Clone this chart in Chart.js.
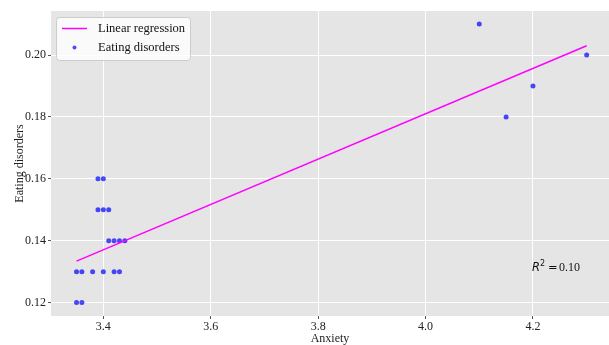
<!DOCTYPE html>
<html>
<head>
<meta charset="utf-8">
<script src="https://cdn.jsdelivr.net/npm/chart.js@4"></script>
<style>
  html, body { margin: 0; padding: 0; background: #fff; }
  #wrap { width: 609px; height: 345px; }
</style>
</head>
<body>
<div id="wrap"><canvas id="chart" width="609" height="345"></canvas></div>
<script>
// values
var anxiety = [3.39, 3.40, 3.39, 3.40, 3.41, 3.41, 3.42, 3.43, 3.44,
               3.35, 3.36, 3.38, 3.40, 3.42, 3.43, 3.35, 3.36,
               4.10, 4.15, 4.20, 4.30];
var eating  = [0.16, 0.16, 0.15, 0.15, 0.15, 0.14, 0.14, 0.14, 0.14,
               0.13, 0.13, 0.13, 0.13, 0.13, 0.13, 0.12, 0.12,
               0.21, 0.18, 0.19, 0.20];
var fitX = [3.35, 4.30];
var fitY = [0.1334, 0.2030];
var xTicks = [3.4, 3.6, 3.8, 4.0, 4.2];
var yTicks = [0.12, 0.14, 0.16, 0.18, 0.20];
var r2Value = 0.10;
var r2At = [4.198, 0.1302];

var serif = "'Liberation Serif', 'Times New Roman', serif";

function pairs(xs, ys) {
    var out = [];
    for (var i = 0; i < xs.length; i++) out.push({ x: xs[i], y: ys[i] });
    return out;
}

var panelBg = {
    id: 'panelBg',
    beforeDraw: function (chart) {
        var a = chart.chartArea, ctx = chart.ctx;
        ctx.save();
        ctx.fillStyle = '#e5e5e5';
        ctx.fillRect(a.left, a.top, a.right - a.left, a.bottom - a.top);
        ctx.restore();
    }
};

function roundRect(ctx, x, y, w, h, r) {
    ctx.beginPath();
    ctx.moveTo(x + r, y);
    ctx.lineTo(x + w - r, y);
    ctx.quadraticCurveTo(x + w, y, x + w, y + r);
    ctx.lineTo(x + w, y + h - r);
    ctx.quadraticCurveTo(x + w, y + h, x + w - r, y + h);
    ctx.lineTo(x + r, y + h);
    ctx.quadraticCurveTo(x, y + h, x, y + h - r);
    ctx.lineTo(x, y + r);
    ctx.quadraticCurveTo(x, y, x + r, y);
    ctx.closePath();
}

var extras = {
    id: 'extras',
    afterDraw: function (chart) {
        var ctx = chart.ctx;
        var ds = chart.data.datasets;
        var a = chart.chartArea;
        ctx.save();

        // legend inside the panel, top left
        var lx = a.left + 5, ly = a.top + 6;
        roundRect(ctx, lx + 0.5, ly + 0.5, 134, 43, 3);
        ctx.fillStyle = 'rgba(255,255,255,0.8)';
        ctx.fill();
        ctx.strokeStyle = '#cccccc';
        ctx.lineWidth = 1;
        ctx.stroke();

        ctx.strokeStyle = ds[0].borderColor;
        ctx.lineWidth = 1.5;
        ctx.beginPath();
        ctx.moveTo(lx + 6, ly + 11.5);
        ctx.lineTo(lx + 31, ly + 11.5);
        ctx.stroke();

        ctx.fillStyle = ds[1].backgroundColor;
        ctx.beginPath();
        ctx.arc(lx + 18.5, ly + 30.5, 2, 0, Math.PI * 2);
        ctx.fill();

        ctx.fillStyle = '#111';
        ctx.font = '12.5px ' + serif;
        ctx.textBaseline = 'middle';
        ctx.textAlign = 'left';
        ctx.fillText(ds[0].label, lx + 42, ly + 12);
        ctx.fillText(ds[1].label, lx + 42, ly + 31);

        // R^2 note
        var px = chart.scales.x.getPixelForValue(r2At[0]);
        var py = chart.scales.y.getPixelForValue(r2At[1]);
        ctx.textBaseline = 'alphabetic';
        ctx.font = 'italic 11.5px "DejaVu Sans"';
        ctx.fillText('R', px, py);
        ctx.font = '8px "DejaVu Sans"';
        ctx.fillText('2', px + 8, py - 5);
        ctx.font = '11.5px "DejaVu Sans"';
        ctx.fillText('=', px + 16, py);
        ctx.font = '12px ' + serif;
        ctx.fillText(r2Value.toFixed(2), px + 27, py);

        ctx.restore();
    }
};

new Chart(document.getElementById('chart'), {
    type: 'scatter',
    data: {
        datasets: [{
            type: 'line',
            label: 'Linear regression',
            data: pairs(fitX, fitY),
            borderColor: '#ff00ff',
            borderWidth: 1.5,
            pointRadius: 0,
            fill: false,
            order: 1
        }, {
            label: 'Eating disorders',
            data: pairs(anxiety, eating),
            backgroundColor: 'rgba(0,0,255,0.7)',
            borderWidth: 0,
            pointRadius: 2.5,
            order: 2
        }]
    },
    options: {
        responsive: false,
        animation: false,
        layout: { autoPadding: false, padding: { top: 11, right: 0, left: 0, bottom: 0 } },
        plugins: {
            legend: { display: false },
            tooltip: { enabled: false }
        },
        scales: {
            x: {
                type: 'linear',
                min: 3.3025,
                max: 4.3416,
                afterBuildTicks: function (s) { s.ticks = xTicks.map(function (v) { return { value: v }; }); },
                afterFit: function (s) { s.height = 29; s.paddingLeft = 0; s.paddingRight = 0; },
                grid: { color: '#ffffff', lineWidth: 1, tickColor: '#555', tickLength: 3 },
                border: { display: false },
                ticks: {
                    padding: 1,
                    color: '#222',
                    font: { family: serif, size: 12 },
                    callback: function (v) { return v.toFixed(1); }
                },
                title: {
                    display: true,
                    text: 'Anxiety',
                    color: '#222',
                    font: { family: serif, size: 12, lineHeight: 1 },
                    padding: { top: 0, bottom: 0 }
                }
            },
            y: {
                min: 0.11566,
                max: 0.21423,
                afterBuildTicks: function (s) { s.ticks = yTicks.map(function (v) { return { value: v }; }); },
                afterFit: function (s) { s.width = 51; s.paddingTop = 0; s.paddingBottom = 0; },
                grid: { color: '#ffffff', lineWidth: 1, tickColor: '#555', tickLength: 3 },
                border: { display: false },
                ticks: {
                    padding: 2,
                    color: '#222',
                    font: { family: serif, size: 12 },
                    callback: function (v) { return v.toFixed(2); }
                },
                title: {
                    display: true,
                    text: 'Eating disorders',
                    color: '#222',
                    font: { family: serif, size: 12, lineHeight: 1 },
                    padding: { top: 14, bottom: 0 }
                }
            }
        }
    },
    plugins: [panelBg, extras]
});
</script>
</body>
</html>
